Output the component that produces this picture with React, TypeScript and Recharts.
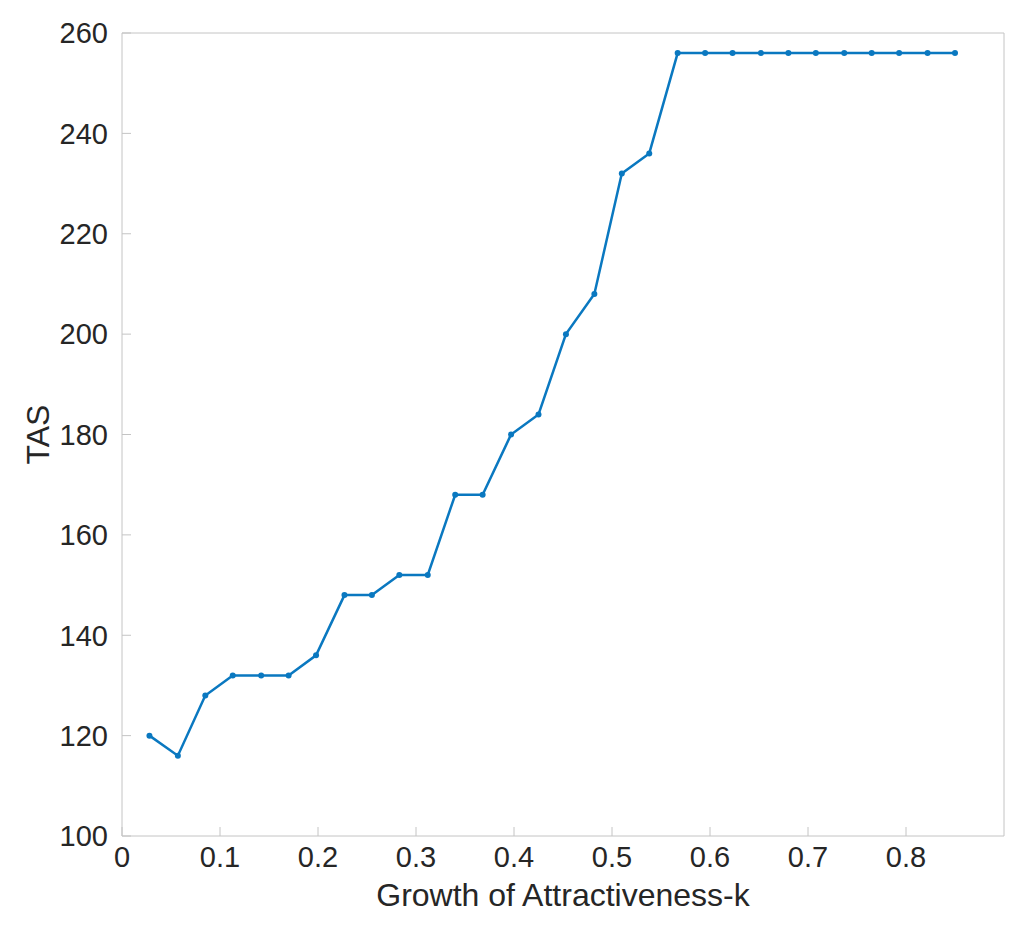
import React from "react";
import {
  LineChart,
  Line,
  XAxis,
  YAxis,
} from "recharts";

// ─── Data ─────────────────────────────────────────────────────────────────────

const kValues = [
  0.028, 0.057, 0.085, 0.113, 0.142, 0.17, 0.198, 0.227, 0.255, 0.283,
  0.312, 0.34, 0.368, 0.397, 0.425, 0.453, 0.482, 0.51, 0.538, 0.567,
  0.595, 0.623, 0.652, 0.68, 0.708, 0.737, 0.765, 0.793, 0.822, 0.85,
];

const tasValues = [
  120, 116, 128, 132, 132, 132, 136, 148, 148, 152,
  152, 168, 168, 180, 184, 200, 208, 232, 236, 256,
  256, 256, 256, 256, 256, 256, 256, 256, 256, 256,
];

const xTicks = [0, 0.1, 0.2, 0.3, 0.4, 0.5, 0.6, 0.7, 0.8];
const yTicks = [100, 120, 140, 160, 180, 200, 220, 240, 260];

const data = kValues.map((k, i) => ({ k, tas: tasValues[i] }));

// ─── Style ────────────────────────────────────────────────────────────────────

const FONT = "'Liberation Sans', Arial, Helvetica, sans-serif";
const AXIS_COLOR = "#c4c4c4";
const TEXT_COLOR = "#262626";
const LINE_COLOR = "#0a78c0";

const tickStyle = { fill: TEXT_COLOR, fontSize: 29, fontFamily: FONT };

function YTitle({ viewBox }: any) {
  const cy = viewBox.y + viewBox.height / 2;
  return (
    <text
      x={38}
      y={cy}
      transform={`rotate(-90, 38, ${cy})`}
      textAnchor="middle"
      dominantBaseline="central"
      fill={TEXT_COLOR}
      fontSize={32}
      fontFamily={FONT}
    >
      TAS
    </text>
  );
}

function XTitle({ viewBox }: any) {
  const cx = viewBox.x + viewBox.width / 2;
  return (
    <text
      x={cx}
      y={895}
      textAnchor="middle"
      dominantBaseline="central"
      fill={TEXT_COLOR}
      fontSize={32}
      fontFamily={FONT}
    >
      Growth of Attractiveness-k
    </text>
  );
}

// ─── Component ────────────────────────────────────────────────────────────────

export default function App() {
  return (
    <div style={{ position: "absolute", left: 0, top: 0, background: "#fff" }}>
      <LineChart
        width={1018}
        height={933}
        data={data}
        margin={{ top: 32, right: 13, bottom: 0, left: 0 }}
        style={{ background: "#fff" }}
      >
        <XAxis
          dataKey="k"
          type="number"
          domain={[0, 0.9]}
          ticks={xTicks}
          tick={tickStyle}
          tickSize={-9}
          tickMargin={19}
          stroke={AXIS_COLOR}
          height={97}
          interval={0}
          allowDataOverflow
          label={(p: any) => <XTitle {...p} />}
        />
        {/* box top edge with inward ticks */}
        <XAxis
          xAxisId="top"
          orientation="top"
          type="number"
          domain={[0, 0.9]}
          ticks={xTicks}
          tick={false}
          tickSize={-9}
          stroke={AXIS_COLOR}
          height={1}
          allowDataOverflow
        />
        <YAxis
          type="number"
          domain={[100, 260]}
          ticks={yTicks}
          tick={tickStyle}
          tickSize={-9}
          tickMargin={23}
          stroke={AXIS_COLOR}
          width={122}
          interval={0}
          allowDataOverflow
          label={(p: any) => <YTitle {...p} />}
        />
        {/* box right edge with inward ticks */}
        <YAxis
          yAxisId="right"
          orientation="right"
          type="number"
          domain={[100, 260]}
          ticks={yTicks}
          tick={false}
          tickSize={-9}
          stroke={AXIS_COLOR}
          width={1}
          allowDataOverflow
        />
        <Line
          type="linear"
          dataKey="tas"
          stroke={LINE_COLOR}
          strokeWidth={2.5}
          dot={{ r: 3, fill: LINE_COLOR, stroke: "none" }}
          activeDot={false}
          isAnimationActive={false}
        />
      </LineChart>
    </div>
  );
}
